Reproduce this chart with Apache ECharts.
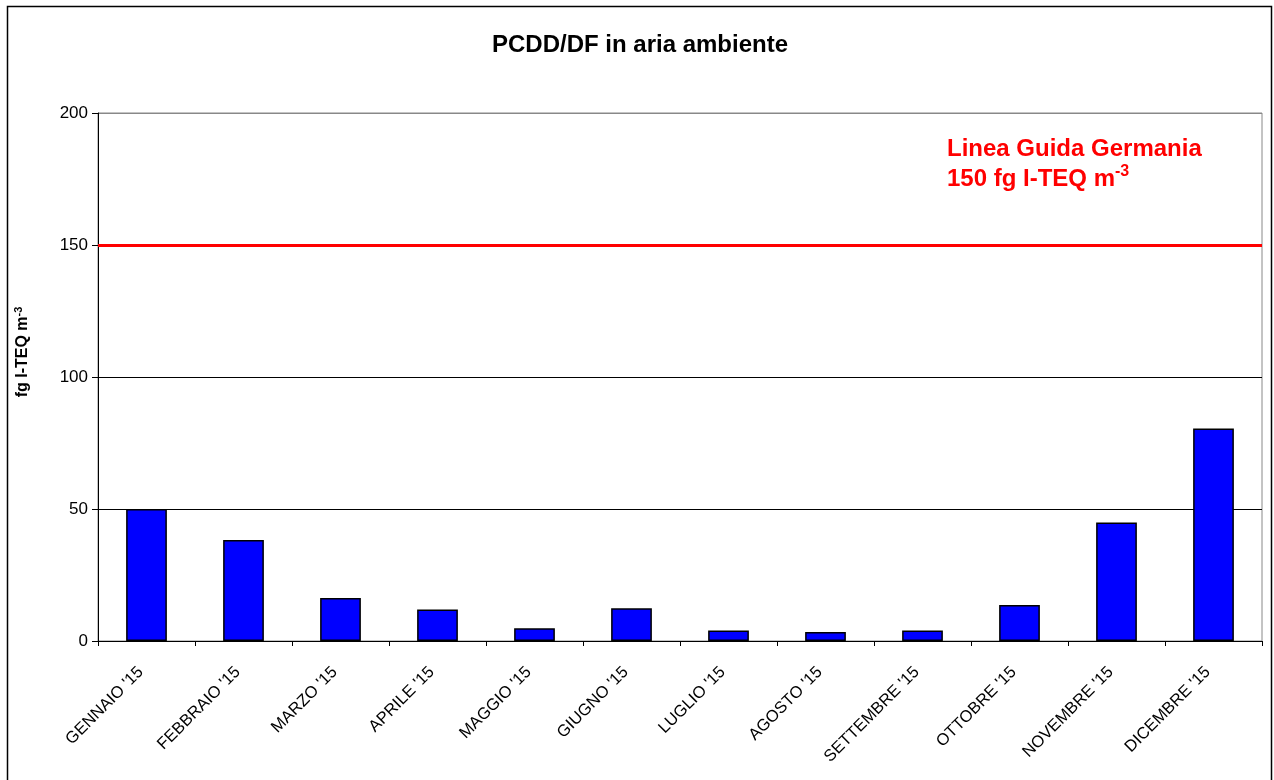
<!DOCTYPE html>
<html>
<head>
<meta charset="utf-8">
<script src="https://cdn.jsdelivr.net/npm/echarts@6/dist/echarts.min.js"></script>
<style>
html,body{margin:0;padding:0;background:#fff;}
#c{width:1274px;height:780px;}
</style>
</head>
<body>
<div id="c"></div>
<script>
const categories = ["GENNAIO '15","FEBBRAIO '15","MARZO '15","APRILE '15","MAGGIO '15","GIUGNO '15","LUGLIO '15","AGOSTO '15","SETTEMBRE '15","OTTOBRE '15","NOVEMBRE '15","DICEMBRE '15"];
const values = [50.0, 38.3, 16.3, 11.9, 4.8, 12.4, 4.0, 3.4, 4.0, 13.6, 44.9, 80.5];
const guideline = 150;
const yTicks = [0, 50, 100, 150, 200];

const font = "Liberation Sans, Arial, sans-serif";
const chart = echarts.init(document.getElementById('c'), null, {renderer:'canvas'});
chart.setOption({
  animation:false,
  backgroundColor:'#fff',
  title:{
    text:'PCDD/DF in aria ambiente',
    left:635, top:28, textAlign:'center',
    textStyle:{fontFamily:font, fontSize:24, fontWeight:'bold', color:'#000'}
  },
  grid:{left:98, right:12, top:113, bottom:139, show:true, borderColor:'#888', borderWidth:1},
  graphic:[
    {type:'rect', shape:{x:7.5,y:6.5,width:1264,height:800}, style:{fill:'none', stroke:'#000', lineWidth:1.5}, silent:true},
    {type:'text', x:23, y:352, rotation:Math.PI/2,
     style:{text:'{a|fg I-TEQ m}{s|-3}', align:'center', verticalAlign:'middle',
       rich:{a:{fontFamily:font,fontSize:16,fontWeight:'bold',fill:'#000'},
             s:{fontFamily:font,fontSize:11,fontWeight:'bold',fill:'#000', padding:[0,0,8,0]}}}},
    {type:'text', x:947, y:137,
     style:{text:'Linea Guida Germania', font:'bold 24px '+font, fill:'#ff0000'}},
    {type:'text', x:947, y:164,
     style:{text:'{a|150 fg I-TEQ m}{s|-3}',
       rich:{a:{fontFamily:font,fontSize:24,fontWeight:'bold',fill:'#ff0000'},
             s:{fontFamily:font,fontSize:16,fontWeight:'bold',fill:'#ff0000',padding:[0,0,14,0]}}}}
  ],
  xAxis:{
    type:'category', data:categories,
    axisLine:{lineStyle:{color:'#000', width:1}},
    axisTick:{show:true, alignWithLabel:false, length:5, lineStyle:{color:'#000'}},
    axisLabel:{rotate:45, interval:0, margin:23, padding:[0,8,0,0], fontFamily:font, fontSize:16.5, color:'#000'}
  },
  yAxis:{
    type:'value', min:yTicks[0], max:yTicks[yTicks.length-1], interval:50,
    axisLine:{show:true, lineStyle:{color:'#000'}},
    axisTick:{show:true, length:6, lineStyle:{color:'#000'}},
    axisLabel:{fontFamily:font, fontSize:17, color:'#000', margin:10},
    splitLine:{show:true, lineStyle:{color:['#000','#000','#000','#000','#888'], width:1}}
  },
  series:[{
    type:'bar', data:values, barWidth:'42%',
    itemStyle:{color:'#0000ff', borderColor:'#000', borderWidth:1.5},
    markLine:{
      silent:true, symbol:'none', label:{show:false},
      lineStyle:{color:'#ff0000', width:3, type:'solid'},
      data:[{yAxis:guideline}]
    }
  }]
});
</script>
</body>
</html>
